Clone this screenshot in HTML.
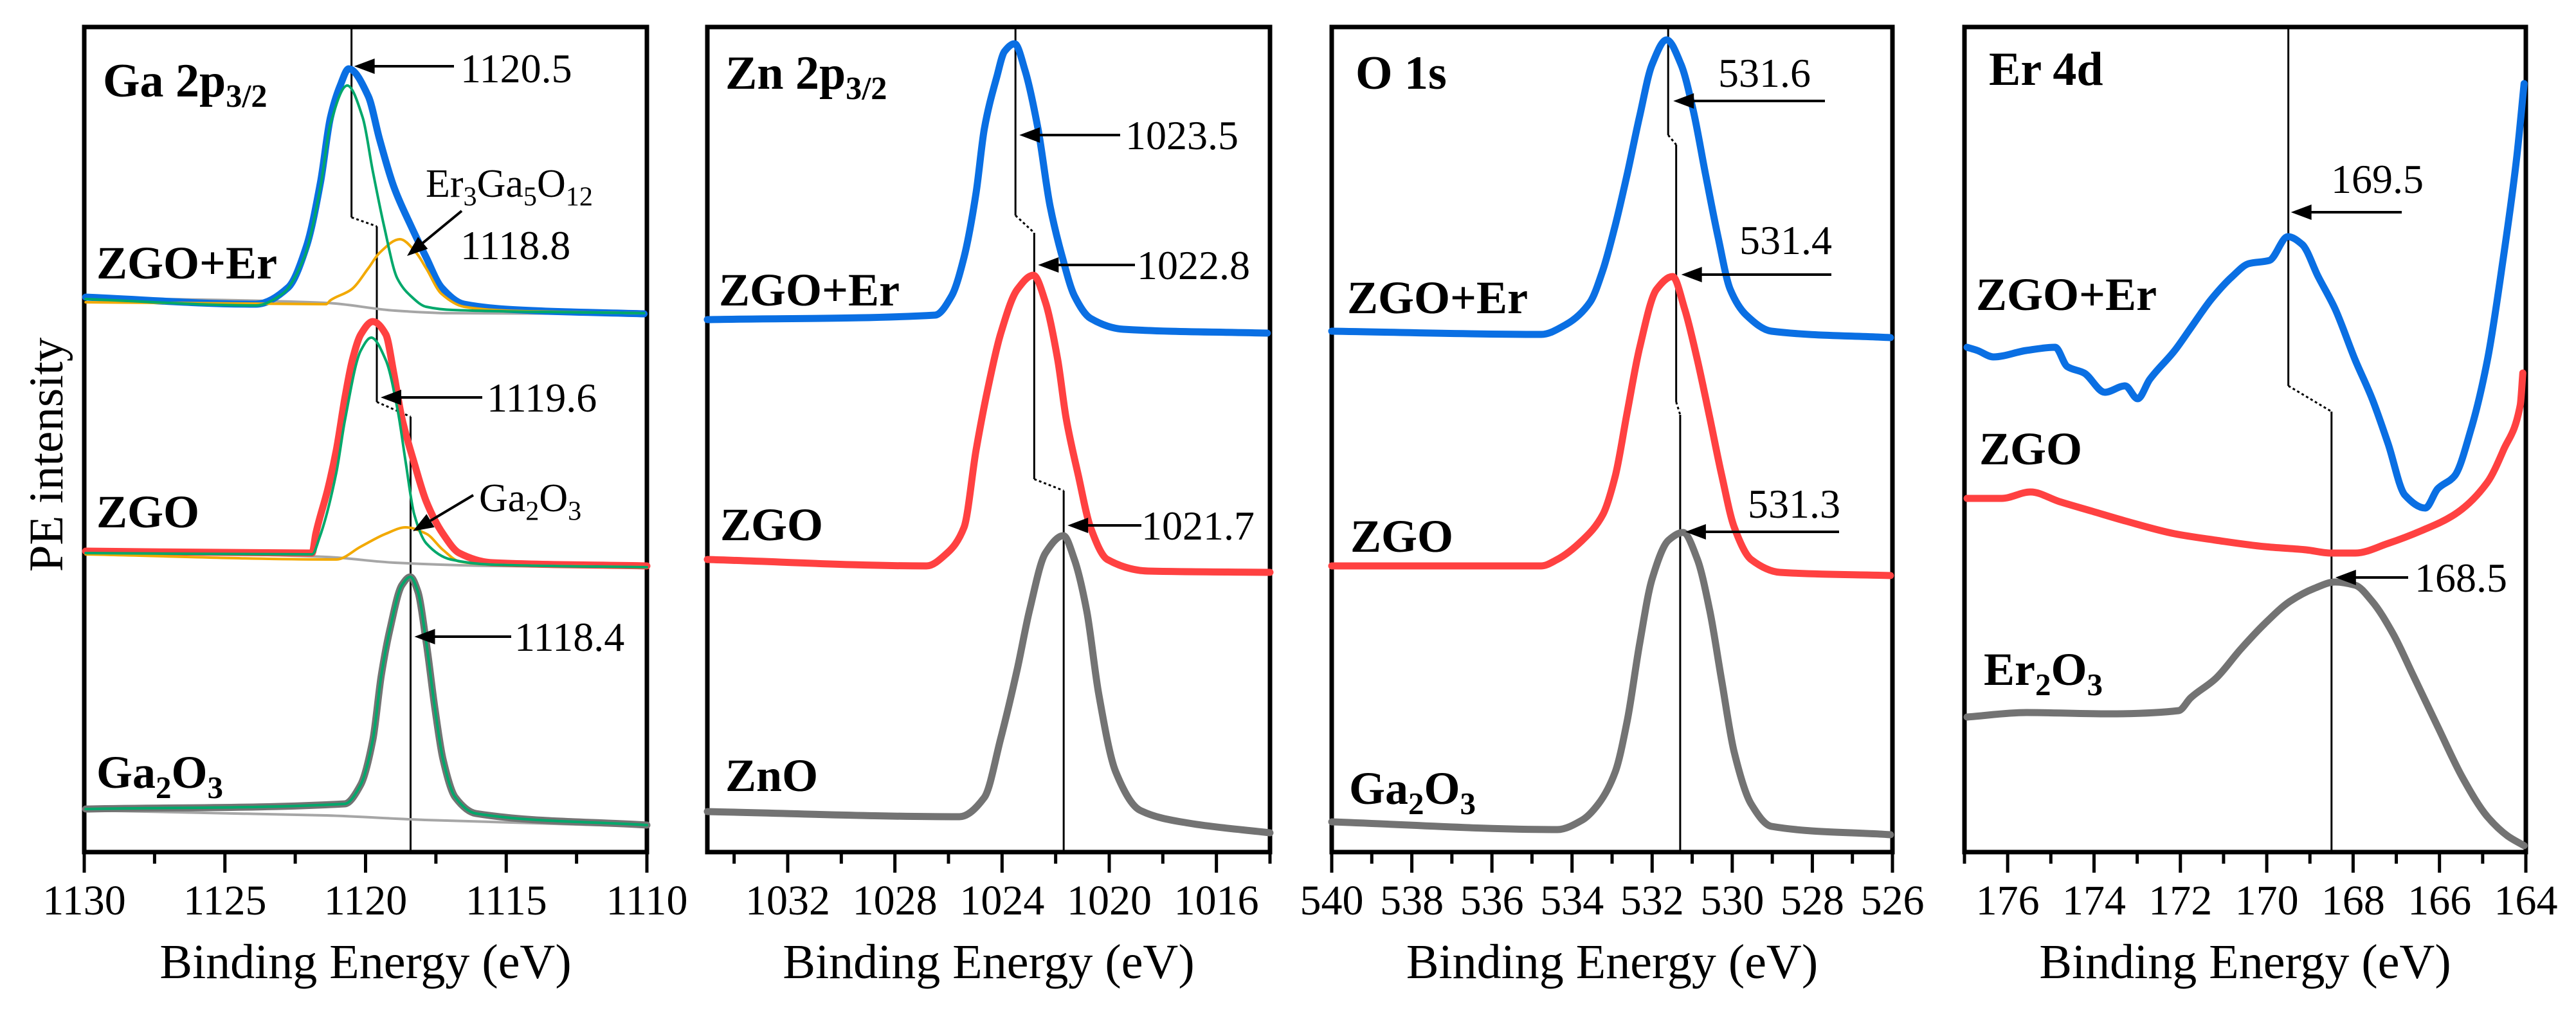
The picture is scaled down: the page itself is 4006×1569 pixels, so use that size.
<!DOCTYPE html>
<html><head><meta charset="utf-8"><style>
html,body{margin:0;padding:0;background:#fff;}
svg{display:block;font-family:"Liberation Serif",serif;}
</style></head><body>
<svg id="chart" width="4006" height="1569" viewBox="0 0 4006 1569" xmlns="http://www.w3.org/2000/svg">
<rect width="4006" height="1569" fill="#fff"/>
<text transform="translate(97,707) rotate(-90)" text-anchor="middle" font-size="75">PE intensity</text>
</svg>
<script>
// ---------- Panel 1: Ga 2p3/2 ----------
const gaBlueX=[1129.95,1123.9,1122.75,1122.1,1121.6,1121.25,1120.9,1120.6,1119.9,1119.5,1119.0,1118.4,1117.85,1117.3,1116.5,1114.05,1110.1];
const gaBlueY=[863,852,878,942,1042,1142,1192,1218,1175,1108,1035,975,925,878,852,842,837];
const gaGreen1X=[1129.95,1123.9,1122.96,1122.18,1121.6,1121.25,1120.65,1120.1,1119.74,1119.35,1118.87,1118.4,1117.85,1116.9,1110.1];
const gaGreen1Y=[860,850,868,925,1035,1132,1192,1142,1058,975,892,865,848,843,838];
const gaOrange1X=[1129.95,1121.4,1121.25,1120.5,1119.9,1119.5,1118.78,1118.2,1117.85,1117.3,1116.5,1115.0,1110.1];
const gaOrange1Y=[855,852,858,875,908,932,953,932,908,868,848,842,838];
const gaBase1X=[1129.95,1121.4,1118.96,1117.0,1110.1];
const gaBase1Y=[862,854,842,838,837];
const gaRedX=[1129.95,1121.9,1121.77,1121.34,1121.04,1120.74,1120.47,1120.17,1119.74,1119.28,1119.0,1118.71,1118.27,1117.84,1117.25,1116.67,1115.5,1110.0];
const gaRedY=[468,465,495,565,625,705,765,805,825,805,745,675,605,545,495,465,450,445];
const gaGreen2X=[1129.95,1121.9,1121.63,1121.04,1120.74,1120.17,1119.8,1119.28,1118.85,1118.57,1118.27,1117.84,1116.97,1115.5,1110.0];
const gaGreen2Y=[465,463,490,590,670,780,800,765,685,605,525,480,455,447,443];
const gaOrange2X=[1129.95,1121.04,1120.17,1119.28,1118.57,1117.84,1117.25,1116.67,1115.5,1110.0];
const gaOrange2Y=[463,455,475,495,505,495,470,452,447,443];
const gaBase2X=[1129.95,1121.4,1118.96,1115.5,1110.0];
const gaBase2Y=[468,459,450,445,443];
const gaRefX=[1129.95,1120.74,1120.17,1119.74,1119.44,1119.14,1118.71,1118.41,1118.14,1117.84,1117.54,1117.25,1116.81,1116.08,1110.0];
const gaRefY=[67,75,105,175,275,345,415,428,405,325,225,145,85,60,42];
const gaBase3X=[1129.95,1121.4,1117.9,1110.0];
const gaBase3Y=[65,57,50,40];
// ---------- Panel 2: Zn 2p3/2 ----------
const znBlueX=[1035,1026.5,1025.88,1025.42,1024.97,1024.66,1024.2,1023.91,1023.53,1023.14,1022.66,1022.21,1021.75,1021.3,1020.7,1019.47,1014.1];
const znBlueY=[828,835,865,925,1025,1125,1205,1245,1257,1215,1125,1005,925,865,830,813,807];
const znRedX=[1035,1026.82,1026.05,1025.42,1024.97,1024.51,1024.06,1023.43,1022.83,1022.38,1021.92,1021.61,1021.15,1020.7,1020.07,1018.54,1014.0];
const znRedY=[455,445,465,505,625,725,805,875,897,855,765,675,585,505,455,437,435];
const znGrayX=[1035,1025.59,1024.66,1024.06,1023.43,1022.98,1022.38,1021.71,1021.3,1020.84,1020.39,1019.76,1018.85,1017.03,1014.0];
const znGrayY=[63,55,85,175,285,375,465,492,455,375,245,125,65,45,30];
// ---------- Panel 3: O 1s ----------
const oBlueX=[540,534.77,534.16,533.55,533.23,532.92,532.62,532.31,532.0,531.64,531.28,530.98,530.67,530.35,530.05,529.65,529.02,526.05];
const oBlueY=[810,805,820,855,905,975,1055,1145,1225,1263,1225,1155,1055,955,875,835,810,800];
const oRedX=[540,534.77,534.37,533.74,533.23,532.92,532.62,532.31,531.89,531.49,531.19,530.87,530.56,530.26,529.95,529.53,528.81,526.05];
const oRedY=[445,445,455,485,525,585,685,785,875,895,845,765,675,585,505,455,435,430];
const oGrayX=[540,534.37,533.74,533.34,532.92,532.62,532.31,532.0,531.59,531.23,530.87,530.56,530.26,529.95,529.53,529.02,526.05];
const oGrayY=[47,35,50,75,125,205,325,425,485,497,455,375,265,155,75,40,27];
// ---------- Panel 4: Er 4d ----------
const erBlueX=[176.94,176.7,176.33,175.57,174.9,174.62,174.23,173.75,173.28,172.99,172.71,172.13,171.76,171.28,170.8,170.42,169.94,169.51,169.18,168.81,168.42,167.95,167.56,167.19,166.8,166.33,166.04,165.65,165.28,164.89,164.52,164.22,164.04];
const erBlueY=[785,780,770,780,785,755,745,715,725,705,735,780,815,860,895,915,920,957,945,895,845,765,705,635,555,535,565,585,655,765,925,1075,1195];
const erRedX=[176.94,176.14,175.47,174.8,174.04,173.28,172.13,171.18,170.05,169.09,168.51,167.95,167.19,166.41,165.65,164.89,164.52,164.13,164.07];
const erRedY=[550,550,560,545,530,515,495,485,475,470,465,465,480,500,525,575,625,695,745];
const erGrayX=[176.94,175.57,173.66,172.04,171.76,171.18,170.61,170.05,169.46,168.9,168.42,167.95,167.56,167.08,166.61,166.04,165.46,164.89,164.42,164.04];
const erGrayY=[210,217,215,220,240,270,315,355,390,410,420,415,390,340,275,195,115,55,25,10];
// ---------- ticks & peak labels ----------
const gaTicks=[1130,1125,1120,1115,1110];
const znTicks=[1032,1028,1024,1020,1016];
const oTicks=[540,538,536,534,532,530,528,526];
const erTicks=[176,174,172,170,168,166,164];
const gaPeaks=[1120.5,1119.6,1118.4];
const znPeaks=[1023.5,1022.8,1021.7];
const oPeaks=[531.6,531.4,531.3];
const erPeaks=[169.5,168.5];

const NS="http://www.w3.org/2000/svg";
const svg=document.getElementById('chart');
const Y0=1325, Y1=42, IMAX=1283;
function yS(v){return Y0-(v/IMAX)*(Y0-Y1);}
function mk(tag,attrs,parent){const e=document.createElementNS(NS,tag);for(const k in attrs)e.setAttribute(k,attrs[k]);(parent||svg).appendChild(e);return e;}

const panels=[
 {key:'ga',x0:131,x1:1006,d0:1130,d1:1110,ticks:gaTicks,minor:[1127.5,1122.5,1117.5,1112.5]},
 {key:'zn',x0:1100,x1:1975,d0:1035,d1:1014,ticks:znTicks,minor:[1034,1030,1026,1022,1018,1014]},
 {key:'o',x0:2071,x1:2943,d0:540,d1:526,ticks:oTicks,minor:[539,537,535,533,531,529,527]},
 {key:'er',x0:3055,x1:3928,d0:177,d1:164,ticks:erTicks,minor:[177,175,173,171,169,167,165]}
];
panels.forEach(p=>{p.xS=v=>p.x0+(p.d0-v)/(p.d0-p.d1)*(p.x1-p.x0);});

// monotone cubic (Fritsch-Carlson) in x
function monoPath(P){
  const n=P.length;
  if(n<3){return 'M'+P.map(p=>p[0].toFixed(1)+','+p[1].toFixed(1)).join(' L');}
  const dx=[],s=[];
  for(let i=0;i<n-1;i++){dx[i]=P[i+1][0]-P[i][0];s[i]=(P[i+1][1]-P[i][1])/dx[i];}
  const m=new Array(n);
  m[0]=s[0];m[n-1]=s[n-2];
  for(let i=1;i<n-1;i++){
    if(s[i-1]*s[i]<=0)m[i]=0;
    else{const w1=2*dx[i]+dx[i-1],w2=dx[i]+2*dx[i-1];m[i]=(w1+w2)/(w1/s[i-1]+w2/s[i]);}
  }
  let d='M'+P[0][0].toFixed(1)+','+P[0][1].toFixed(1);
  for(let i=0;i<n-1;i++){
    const h=dx[i]/3;
    d+=` C${(P[i][0]+h).toFixed(1)},${(P[i][1]+m[i]*h).toFixed(1)} ${(P[i+1][0]-h).toFixed(1)},${(P[i+1][1]-m[i+1]*h).toFixed(1)} ${P[i+1][0].toFixed(1)},${P[i+1][1].toFixed(1)}`;
  }
  return d;
}
function series(p,xs,ys,color,w,name){
  const P=xs.map((x,i)=>[p.xS(x),yS(ys[i])]);
  const e=mk('path',{d:monoPath(P),fill:'none',stroke:color,'stroke-width':w,'stroke-linejoin':'round','stroke-linecap':'round'});
  
  
}
function txt(x,y,size,weight,parts,name,anchor){
  const t=mk('text',{x:x,y:y,'font-size':size,'font-weight':weight||'normal','text-anchor':anchor||'start'});
  
  
  parts.forEach(pt=>{
    if(typeof pt==='string'){t.appendChild(document.createTextNode(pt));}
    else{const s=mk('tspan',{'font-size':size*0.68,dy:size*0.22},t);s.textContent=pt.sub;const r=mk('tspan',{dy:-size*0.22},t);r.textContent='\u200b';}
  });
  return t;
}
function arrow(x1,y,x2,name){
  const g=mk('g',{});
  
  
  mk('line',{x1:x1+28,y1:y,x2:x2,y2:y,stroke:'#000','stroke-width':4},g);
  mk('polygon',{points:`${x1},${y} ${x1+32},${y-12} ${x1+32},${y+12}`,fill:'#000'},g);
}
function arrowDiag(xt,yt,xs,ys,name){
  const g=mk('g',{});
  
  
  const dx=xs-xt,dy=ys-yt,L=Math.hypot(dx,dy),ux=dx/L,uy=dy/L;
  mk('line',{x1:xt+ux*28,y1:yt+uy*28,x2:xs,y2:ys,stroke:'#000','stroke-width':4},g);
  const bx=xt+ux*32,by=yt+uy*32;
  mk('polygon',{points:`${xt},${yt} ${bx-uy*12},${by+ux*12} ${bx+uy*12},${by-ux*12}`,fill:'#000'},g);
}
function vref(p,vals,segs,name){
  const g=mk('g',{});
  
  
  vals.forEach((v,i)=>{
    const x=p.xS(v);
    mk('line',{x1:x,y1:segs[i][0],x2:x,y2:segs[i][1],stroke:'#000','stroke-width':3},g);
    if(i<vals.length-1){const xn=p.xS(vals[i+1]);
      mk('line',{x1:x,y1:segs[i][1],x2:xn,y2:segs[i+1][0],stroke:'#000','stroke-width':3,'stroke-dasharray':'4,4'},g);}
  });
}

panels.forEach(p=>{
  const g=mk('g',{});
  
  
  mk('rect',{x:p.x0,y:Y1,width:p.x1-p.x0,height:Y0-Y1,fill:'none',stroke:'#000','stroke-width':7},g);
  p.ticks.forEach(t=>{
    const x=p.xS(t);
    mk('line',{x1:x,y1:Y0,x2:x,y2:1357,stroke:'#000','stroke-width':5},g);
    const l=mk('text',{x:x,y:1422,'font-size':66,'text-anchor':'middle'},g);
    l.textContent=t;
    
    
  });
  p.minor.forEach(t=>{const x=p.xS(t);mk('line',{x1:x,y1:Y0,x2:x,y2:1343,stroke:'#000','stroke-width':5},g);});
  const at=mk('text',{x:(p.x0+p.x1)/2,y:1521,'font-size':76,'text-anchor':'middle'},g);
  at.textContent='Binding Energy (eV)';
  
  
});
const [P1,P2,P3,P4]=panels;
const BLUE='#0a6fe3',RED='#ff4141',GRAY='#737373',GREEN='#00a86b',ORANGE='#f2a900',LGRAY='#a6a6a6';

vref(P1,gaPeaks,[[42,338],[352,625],[648,1325]],'ga-reference-lines');
series(P1,gaBase1X,gaBase1Y,LGRAY,4,'ga-zgo-er-background');
series(P1,gaBlueX,gaBlueY,BLUE,11,'ga-zgo-er-curve');
series(P1,gaOrange1X,gaOrange1Y,ORANGE,4,'ga-er3ga5o12-component');
series(P1,gaGreen1X,gaGreen1Y,GREEN,4,'ga-zgo-er-main-component');
series(P1,gaBase2X,gaBase2Y,LGRAY,4,'ga-zgo-background');
series(P1,gaRedX,gaRedY,RED,11,'ga-zgo-curve');
series(P1,gaOrange2X,gaOrange2Y,ORANGE,4,'ga-ga2o3-component');
series(P1,gaGreen2X,gaGreen2Y,GREEN,4,'ga-zgo-main-component');
series(P1,gaBase3X,gaBase3Y,LGRAY,4,'ga-ga2o3-background');
series(P1,gaRefX,gaRefY,GRAY,11,'ga-ga2o3-curve');
series(P1,gaRefX,gaRefY,GREEN,4,'ga-ga2o3-fit');
txt(160,150,74,'bold',['Ga 2p',{sub:'3/2'}],'ga-panel-title');
txt(150,433,72,'bold',['ZGO+Er'],'ga-label-zgo-er');
txt(150,820,72,'bold',['ZGO'],'ga-label-zgo');
txt(150,1225,72,'bold',['Ga',{sub:'2'},'O',{sub:'3'}],'ga-label-ga2o3');
arrow(P1.xS(gaPeaks[0])+4,103,706,'arrow-1120-5');
txt(716,128,64,'normal',[String(gaPeaks[0])],'peak-label-1120-5');
txt(662,306,62,'normal',['Er',{sub:'3'},'Ga',{sub:'5'},'O',{sub:'12'}],'er3ga5o12-label');
arrowDiag(633,398,718,328,'arrow-er3ga5o12');
txt(716,403,64,'normal',['1118.8'],'peak-label-1118-8');
arrow(P1.xS(gaPeaks[1])+6,618,750,'arrow-1119-6');
txt(757,640,64,'normal',[String(gaPeaks[1])],'peak-label-1119-6');
txt(745,795,62,'normal',['Ga',{sub:'2'},'O',{sub:'3'}],'ga2o3-component-label');
arrowDiag(642,826,736,770,'arrow-ga2o3');
arrow(P1.xS(gaPeaks[2])+6,990,795,'arrow-1118-4');
txt(800,1012,64,'normal',[String(gaPeaks[2])],'peak-label-1118-4');

vref(P2,znPeaks,[[42,335],[362,745],[763,1325]],'zn-reference-lines');
series(P2,znBlueX,znBlueY,BLUE,11,'zn-zgo-er-curve');
series(P2,znRedX,znRedY,RED,11,'zn-zgo-curve');
series(P2,znGrayX,znGrayY,GRAY,11,'zn-zno-curve');
txt(1128,138,74,'bold',['Zn 2p',{sub:'3/2'}],'zn-panel-title');
txt(1118,475,72,'bold',['ZGO+Er'],'zn-label-zgo-er');
txt(1120,840,72,'bold',['ZGO'],'zn-label-zgo');
txt(1128,1230,72,'bold',['ZnO'],'zn-label-zno');
arrow(P2.xS(znPeaks[0])+6,210,1742,'arrow-1023-5');
txt(1750,232,64,'normal',[String(znPeaks[0])],'peak-label-1023-5');
arrow(P2.xS(znPeaks[1])+6,412,1765,'arrow-1022-8');
txt(1768,434,64,'normal',[String(znPeaks[1])],'peak-label-1022-8');
arrow(P2.xS(znPeaks[2])+6,817,1775,'arrow-1021-7');
txt(1775,839,64,'normal',[String(znPeaks[2])],'peak-label-1021-7');

vref(P3,oPeaks,[[42,210],[225,625],[645,1325]],'o-reference-lines');
series(P3,oBlueX,oBlueY,BLUE,11,'o-zgo-er-curve');
series(P3,oRedX,oRedY,RED,11,'o-zgo-curve');
series(P3,oGrayX,oGrayY,GRAY,11,'o-ga2o3-curve');
txt(2108,138,74,'bold',['O 1s'],'o-panel-title');
txt(2095,487,72,'bold',['ZGO+Er'],'o-label-zgo-er');
txt(2100,858,72,'bold',['ZGO'],'o-label-zgo');
txt(2098,1250,72,'bold',['Ga',{sub:'2'},'O',{sub:'3'}],'o-label-ga2o3');
arrow(P3.xS(oPeaks[0])+8,157,2838,'arrow-531-6');
txt(2672,135,64,'normal',[String(oPeaks[0])],'peak-label-531-6');
arrow(P3.xS(oPeaks[1])+8,427,2848,'arrow-531-4');
txt(2705,395,64,'normal',[String(oPeaks[1])],'peak-label-531-4');
arrow(P3.xS(oPeaks[2])+8,827,2860,'arrow-531-3');
txt(2718,805,64,'normal',[String(oPeaks[2])],'peak-label-531-3');

vref(P4,erPeaks,[[42,600],[640,1325]],'er-reference-lines');
series(P4,erBlueX,erBlueY,BLUE,11,'er-zgo-er-curve');
series(P4,erRedX,erRedY,RED,11,'er-zgo-curve');
series(P4,erGrayX,erGrayY,GRAY,11,'er-er2o3-curve');
txt(3093,132,74,'bold',['Er 4d'],'er-panel-title');
txt(3073,482,72,'bold',['ZGO+Er'],'er-label-zgo-er');
txt(3078,722,72,'bold',['ZGO'],'er-label-zgo');
txt(3085,1065,72,'bold',['Er',{sub:'2'},'O',{sub:'3'}],'er-label-er2o3');
arrow(P4.xS(erPeaks[0])+4,330,3735,'arrow-169-5');
txt(3625,300,64,'normal',[String(erPeaks[0])],'peak-label-169-5');
arrow(P4.xS(erPeaks[1])+6,898,3745,'arrow-168-5');
txt(3755,920,64,'normal',[String(erPeaks[1])],'peak-label-168-5');
</script>
</body></html>
